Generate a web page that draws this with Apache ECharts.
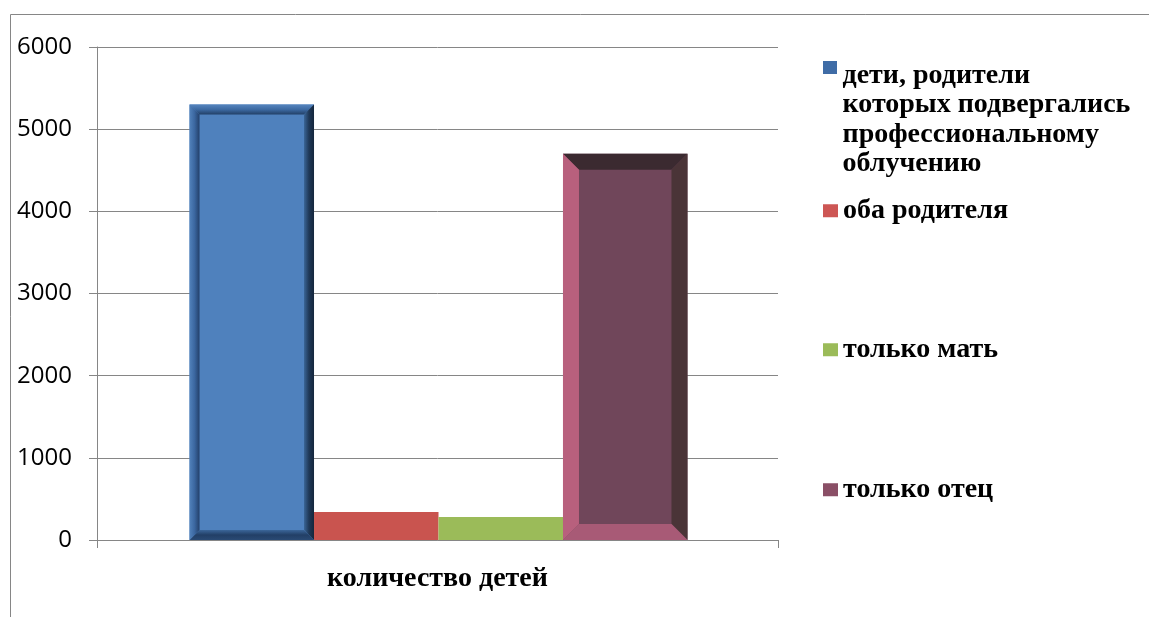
<!DOCTYPE html>
<html>
<head>
<meta charset="utf-8">
<script src="https://cdn.jsdelivr.net/npm/echarts@6/dist/echarts.min.js"></script>
<style>
  html, body { margin: 0; padding: 0; background: #ffffff; }
  #chart { width: 1149px; height: 617px; }
</style>
</head>
<body>
<div id="chart"></div>
<script>
// Category and series data
const categories = ['количество детей'];
const seriesNames = [
  'дети, родители\nкоторых подвергались\nпрофессиональному\nоблучению',
  'оба родителя',
  'только мать',
  'только отец'
];
const childrenExposed = [5300];
const bothParents = [340];
const motherOnly = [280];
const fatherOnly = [4700];
const yTicks = [0, 1000, 2000, 3000, 4000, 5000, 6000];

const seriesValues = [childrenExposed, bothParents, motherOnly, fatherOnly];

function grad(x1, y1, x2, y2, stops) {
  return new echarts.graphic.LinearGradient(x1, y1, x2, y2,
    stops.map(function (c, i) { return { offset: i / (stops.length - 1), color: c }; }));
}

// Bar looks: face colour plus bevel fills for the top, right, bottom and left edges
const barStyles = [
  {
    face: '#4f81bd', bevel: 10,
    edges: [
      grad(0, 0, 0, 1, ['#5685bf', '#3d6aa2', '#223f66']),
      grad(1, 0, 0, 0, ['#15263c', '#1f3857', '#3a6596']),
      grad(0, 1, 0, 0, ['#2a4a74', '#223f66', '#3b6699']),
      grad(0, 0, 1, 0, ['#5282bb', '#3b67a0', '#23406a'])
    ]
  },
  { face: '#c9544f', bevel: 0 },
  { face: '#9bbb59', bevel: 0 },
  { face: '#70465a', bevel: 16, edges: ['#3b2a30', '#4a3437', '#a85a76', '#b8607d'] }
];
const legendColors = ['#3f6ca6', '#cd5654', '#9bbb59', '#8a4f66'];
const barShare = 0.1828; // width of each bar as a share of the category band

const chart = echarts.init(document.getElementById('chart'));

function makeRender(idx) {
  return function (params, api) {
    const cat = api.value(0);
    const val = api.value(1);
    const base = api.coord([cat, 0]);
    const top = api.coord([cat, val]);
    const band = api.size([1, 0])[0];
    const bw = band * barShare;
    const x0 = base[0] + 1 + (idx - 2) * bw;
    const x1 = x0 + bw;
    const y0 = top[1];
    const y1 = base[1];
    const st = barStyles[idx];
    const children = [{
      type: 'rect',
      shape: { x: x0, y: y0, width: bw, height: y1 - y0 },
      style: { fill: st.face }
    }];
    const b = Math.min(st.bevel, (y1 - y0) / 2);
    if (b > 0) {
      const polys = [
        [[x0, y0], [x1, y0], [x1 - b, y0 + b], [x0 + b, y0 + b]],
        [[x1, y0], [x1, y1], [x1 - b, y1 - b], [x1 - b, y0 + b]],
        [[x0, y1], [x1, y1], [x1 - b, y1 - b], [x0 + b, y1 - b]],
        [[x0, y0], [x0 + b, y0 + b], [x0 + b, y1 - b], [x0, y1]]
      ];
      polys.forEach(function (pts, k) {
        children.push({ type: 'polygon', shape: { points: pts }, style: { fill: st.edges[k] } });
      });
    }
    return { type: 'group', children: children };
  };
}

const serifFont = 'Liberation Serif';
const legendFont = { fontFamily: serifFont, fontWeight: 'bold', fontSize: 28, color: '#000', lineHeight: 29.5 };
const legendTops = [61, 196, 335, 475];
// Legend swatch: a square at the top of a tall, otherwise empty box so it sits beside the first text line
const tallSwatch = 'path://M0,0h14v13h-14z M0,118h0.01v0.01h-0.01z';

const option = {
  animation: false,
  backgroundColor: '#ffffff',
  graphic: [{
    type: 'rect',
    shape: { x: 10.5, y: 14.5, width: 1200, height: 700 },
    style: { fill: 'none', stroke: '#868686', lineWidth: 1 },
    silent: true
  }],
  grid: { left: 97, right: 371, top: 47, bottom: 77, containLabel: false },
  legend: seriesNames.map(function (name, i) {
    const multi = i === 0;
    return {
      left: 823,
      top: legendTops[i],
      orient: 'vertical',
      data: [{ name: name, itemStyle: { color: legendColors[i] }, icon: multi ? tallSwatch : 'rect' }],
      itemWidth: 15,
      itemHeight: multi ? 118 : 13,
      itemGap: 0,
      padding: 0,
      selectedMode: false,
      textStyle: legendFont,
      align: 'left'
    };
  }),
  xAxis: {
    type: 'category',
    data: categories,
    axisLine: { lineStyle: { color: '#868686', width: 1 } },
    axisTick: { show: true, length: 8, lineStyle: { color: '#868686' } },
    axisLabel: {
      margin: 25,
      fontFamily: serifFont, fontWeight: 'bold', fontSize: 28, color: '#000'
    }
  },
  yAxis: {
    type: 'value',
    min: 0,
    max: 6000,
    interval: 1000,
    axisLine: { show: true, lineStyle: { color: '#868686', width: 1 } },
    axisTick: { show: true, length: 8, lineStyle: { color: '#868686' } },
    splitLine: { lineStyle: { color: '#868686', width: 1 } },
    axisLabel: {
      margin: 25,
      fontFamily: 'Open Sans', fontSize: 24, color: '#000',
      formatter: function (v) { return yTicks.indexOf(v) >= 0 ? String(v) : ''; }
    }
  },
  series: seriesNames.map(function (name, i) {
    return {
      type: 'custom',
      name: name,
      coordinateSystem: 'cartesian2d',
      itemStyle: { color: legendColors[i] },
      encode: { x: 0, y: 1 },
      data: seriesValues[i].map(function (v, c) { return [c, v]; }),
      renderItem: makeRender(i)
    };
  })
};

chart.setOption(option);
</script>
</body>
</html>
